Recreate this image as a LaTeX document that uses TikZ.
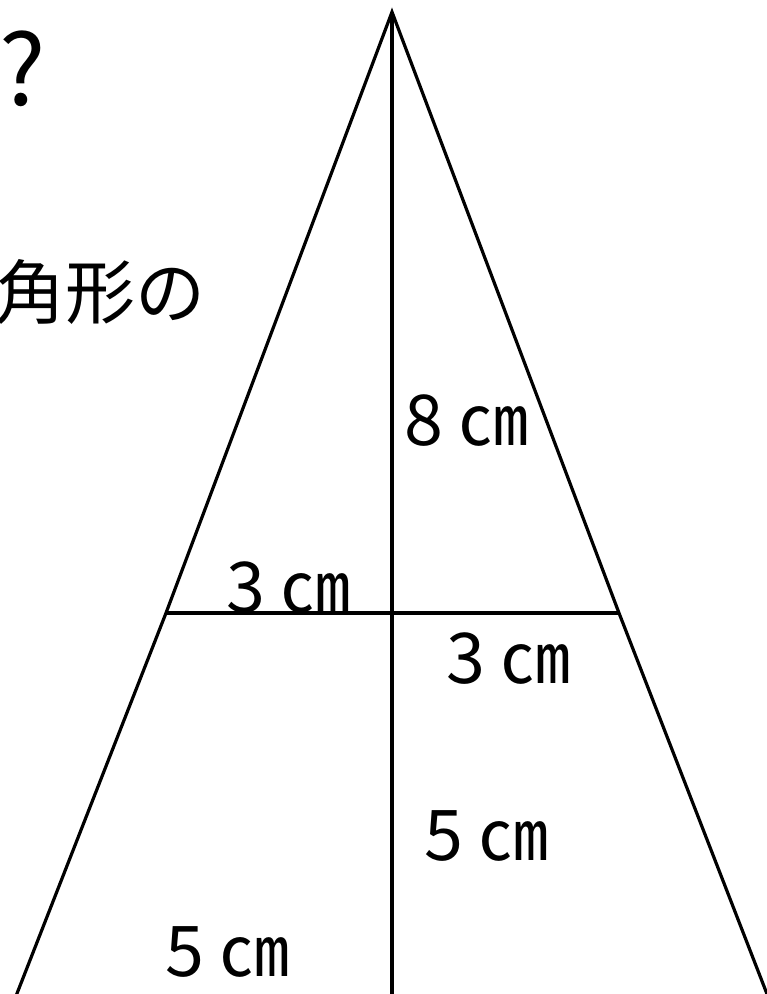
\documentclass[tikz,border=0pt]{standalone}
\usepackage{fontspec}
\setmainfont{Noto Sans CJK JP}
\begin{document}
\begin{tikzpicture}[x=1pt,y=-1pt,
    edge/.style={line width=3.2pt},
    lbl/.style={inner sep=0pt,anchor=base west,font=\fontsize{70}{80}\selectfont}]
  \useasboundingbox (0,0) rectangle (767,994);
  \clip (0,0) rectangle (767,994);
  % corners of the figure
  \coordinate (apex) at (392,12);
  \coordinate (midL) at (166,613);
  \coordinate (midC) at (392,613);
  \coordinate (midR) at (619,613);
  \coordinate (botL) at (16,996);
  \coordinate (botC) at (392,996);
  \coordinate (botR) at (767,994);
  % outline
  \draw[edge] (botL) -- (midL) -- (apex) -- (midR) -- (botR);
  \draw[edge] (apex) -- (midC) -- (botC);
  \draw[edge] (midL) -- (midC) -- (midR);
  % question text, cut at the left edge
  \node[lbl,font=\fontsize{98}{110}\selectfont] (qmark) at (-1,105) {?};
  \node[lbl] (shape) at (-5,318) {角形の};
  % lengths
  \node[lbl] (height) at (404,445) {8 ㎝};
  \node[lbl] (topL) at (226,612) {3 ㎝};
  \node[lbl] (topR) at (446,683) {3 ㎝};
  \node[lbl] (lowH) at (424,860) {5 ㎝};
  \node[lbl] (lowL) at (165,976) {5 ㎝};
\end{tikzpicture}
\end{document}
